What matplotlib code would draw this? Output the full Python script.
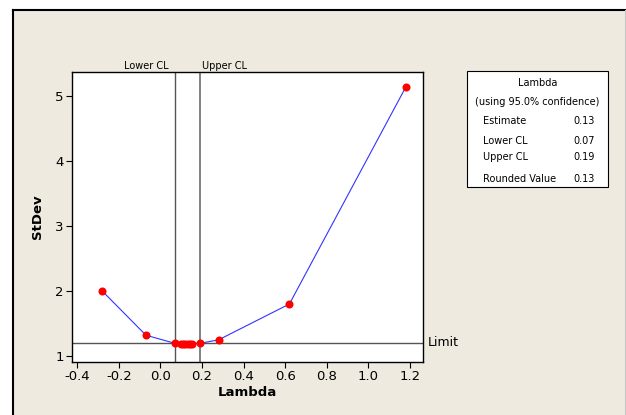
import matplotlib
matplotlib.use("Agg")
import matplotlib.pyplot as plt
from matplotlib.patches import Rectangle
from matplotlib.lines import Line2D

# Data
lambdas = [-0.28, -0.07, 0.07, 0.10, 0.11, 0.12, 0.13, 0.14, 0.15, 0.19, 0.28, 0.62, 1.18]
stdevs = [2.00, 1.32, 1.195, 1.19, 1.19, 1.19, 1.19, 1.19, 1.19, 1.195, 1.25, 1.80, 5.14]
lower_cl = 0.07
upper_cl = 0.19
limit = 1.205
xticks = [-0.4, -0.2, 0.0, 0.2, 0.4, 0.6, 0.8, 1.0, 1.2]
yticks = [1, 2, 3, 4, 5]
table_rows = [("Estimate", "0.13"), ("Lower CL", "0.07"), ("Upper CL", "0.19"), ("Rounded Value", "0.13")]

W, H = 626, 415
fig = plt.figure(figsize=(W / 100, H / 100), dpi=100)
fig.patch.set_facecolor("white")

beige = "#EEEAE0"
fig.patches.append(Rectangle((13 / W, 0), 1 - 13 / W, 1 - 10 / H, transform=fig.transFigure,
                             facecolor=beige, edgecolor="none", zorder=-10))
fig.lines.append(Line2D([13 / W, 13 / W], [0, 1 - 10 / H], transform=fig.transFigure, color="black", lw=1.5, zorder=-5))
fig.lines.append(Line2D([13 / W, 1], [1 - 10 / H, 1 - 10 / H], transform=fig.transFigure, color="black", lw=1.5, zorder=-5))
fig.lines.append(Line2D([624.5 / W, 624.5 / W], [0, 1 - 10 / H], transform=fig.transFigure, color="#C8C8C8", lw=0.8, zorder=-5))

ax = fig.add_axes([72 / W, (H - 362) / H, (423 - 72) / W, (362 - 72) / H])
ax.set_facecolor("white")
ax.set_xlim(-0.4255, 1.2625)
ax.set_ylim(0.908, 5.37)

ax.axvline(lower_cl, color="#555555", lw=1.0, zorder=1)
ax.axvline(upper_cl, color="#777777", lw=1.3, zorder=1)
ax.axhline(limit, color="#555555", lw=1.0, zorder=1)

ax.plot(lambdas, stdevs, color="#3333FF", lw=0.8, zorder=2)
ax.plot(lambdas, stdevs, "o", color="#FF0000", markersize=5.8, markeredgewidth=0, zorder=3)

ax.set_xticks(xticks)
ax.set_xticklabels([f"{t:.1f}" for t in xticks])
ax.set_yticks(yticks)
ax.tick_params(direction="out", length=4, width=0.8, labelsize=9.5, colors="black", pad=2)
for s in ax.spines.values():
    s.set_color("black")
    s.set_linewidth(1.0)

ax.set_xlabel("Lambda", fontsize=9.5, fontweight="bold", labelpad=2)
ax.set_ylabel("StDev", fontsize=9.5, fontweight="bold", labelpad=8)

ax.text(lower_cl - 0.03, 1.005, "Lower CL", transform=ax.get_xaxis_transform(),
        ha="right", va="bottom", fontsize=7)
ax.text(upper_cl + 0.01, 1.005, "Upper CL", transform=ax.get_xaxis_transform(),
        ha="left", va="bottom", fontsize=7)
ax.text(1.013, limit, "Limit", transform=ax.get_yaxis_transform(), ha="left", va="center",
        fontsize=9, clip_on=False)

# Info box
bx0, bx1, by0, by1 = 467, 608, 71, 187
fig.patches.append(Rectangle((bx0 / W, 1 - by1 / H), (bx1 - bx0) / W, (by1 - by0) / H,
                             transform=fig.transFigure, facecolor="white", edgecolor="black",
                             lw=0.8, zorder=1))
cx = (bx0 + bx1) / 2
fig.text(cx / W, 1 - 83 / H, "Lambda", ha="center", va="center", fontsize=7)
fig.text(cx / W, 1 - 102 / H, "(using 95.0% confidence)", ha="center", va="center", fontsize=7)
row_y = [121, 141, 157, 179]
for (lab, val), yy in zip(table_rows, row_y):
    fig.text(483 / W, 1 - yy / H, lab, ha="left", va="center", fontsize=7)
    fig.text(595 / W, 1 - yy / H, val, ha="right", va="center", fontsize=7)

fig.savefig("out.png", dpi=100, facecolor=fig.get_facecolor())
